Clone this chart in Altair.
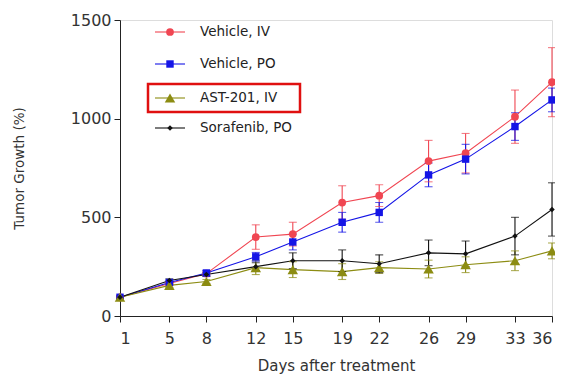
import altair as alt
import pandas as pd

days = [1, 5, 8, 12, 15, 19, 22, 26, 29, 33, 36]

series_names = ["Vehicle, IV", "Vehicle, PO", "AST-201, IV", "Sorafenib, PO"]
series_colors = ["#f04652", "#1414e6", "#8c8c12", "#111111"]
series_shapes = ["circle", "square", "triangle-up", "diamond"]
series_sizes = [60, 55, 110, 30]

veh_iv_mean = [95, 165, 215, 400, 415, 575, 610, 785, 825, 1010, 1185]
veh_iv_err = [5, 10, 12, 62, 60, 85, 55, 105, 100, 135, 175]
veh_po_mean = [95, 170, 218, 300, 375, 475, 525, 715, 795, 960, 1095]
veh_po_err = [5, 10, 12, 22, 40, 50, 50, 60, 75, 70, 60]
ast_mean = [95, 155, 175, 245, 235, 225, 245, 238, 260, 280, 330]
ast_err = [5, 10, 10, 35, 40, 40, 30, 45, 40, 50, 40]
sor_mean = [95, 180, 210, 250, 280, 280, 265, 320, 315, 405, 540]
sor_err = [5, 8, 10, 20, 40, 55, 45, 65, 65, 95, 135]

means = [veh_iv_mean, veh_po_mean, ast_mean, sor_mean]
errs = [veh_iv_err, veh_po_err, ast_err, sor_err]

rows = []
for name, m, e in zip(series_names, means, errs):
    for d, v, s in zip(days, m, e):
        rows.append({"series": name, "day": d, "mean": v, "lo": v - s, "hi": v + s})
df = pd.DataFrame(rows)

W, H = 432, 296
FONT = "DejaVu Sans"

xscale = alt.Scale(domain=[1, 36], nice=False, zero=False)
yscale = alt.Scale(domain=[0, 1500], nice=False)
color = alt.Color("series:N", scale=alt.Scale(domain=series_names, range=series_colors), legend=None)

x_enc = alt.X("day:Q", scale=xscale, axis=alt.Axis(
    values=days, title="Days after treatment", grid=False, labelFontSize=16,
    labelColor="#333", titleFontSize=15, titleFontWeight="normal", titleColor="#333",
    domainColor="#222", tickColor="#222", tickSize=6, labelPadding=8, titlePadding=12,
    labelFont=FONT, titleFont=FONT, format="d"))
y_enc = alt.Y("mean:Q", scale=yscale, axis=alt.Axis(
    values=[0, 500, 1000, 1500], title="Tumor Growth (%)", grid=False, labelFontSize=16,
    labelColor="#333", titleFontSize=13.5, titleFontWeight="normal", titleColor="#333",
    domainColor="#222", tickColor="#222", tickSize=6, labelPadding=3, titlePadding=44,
    labelFont=FONT, titleFont=FONT, format="d"))

base = alt.Chart(df)

lines = base.mark_line(strokeWidth=1.1).encode(x=x_enc, y=y_enc, color=color, detail="series:N")
ebars = base.mark_rule(strokeWidth=1.1).encode(
    x="day:Q", y=alt.Y("lo:Q", scale=yscale), y2="hi:Q", color=color)
cap_hi = base.mark_tick(thickness=1.1, size=8, orient="horizontal").encode(
    x="day:Q", y=alt.Y("hi:Q", scale=yscale), color=color)
cap_lo = base.mark_tick(thickness=1.1, size=8, orient="horizontal").encode(
    x="day:Q", y=alt.Y("lo:Q", scale=yscale), color=color)

layers = [lines, ebars, cap_hi, cap_lo]
for name, col, shp, sz in zip(series_names, series_colors, series_shapes, series_sizes):
    layers.append(
        base.transform_filter(alt.datum.series == name)
        .mark_point(filled=True, opacity=1, shape=shp, size=sz, color=col)
        .encode(x="day:Q", y="mean:Q")
    )

# manual legend (pixel layout)
leg_y = [12, 44, 78, 108]
leg = pd.DataFrame({"series": series_names, "ly": leg_y})
leg_enc_y = alt.Y("ly:Q", scale=None)
layers.append(alt.Chart(leg).mark_rule(strokeWidth=1.1).encode(
    x=alt.value(35), x2=alt.value(65), y=leg_enc_y, color=color))
for name, col, shp, sz in zip(series_names, series_colors, series_shapes, series_sizes):
    layers.append(
        alt.Chart(leg).transform_filter(alt.datum.series == name)
        .mark_point(filled=True, opacity=1, shape=shp, size=sz, color=col)
        .encode(x=alt.value(50), y=leg_enc_y)
    )
layers.append(alt.Chart(leg).mark_text(align="left", baseline="middle", fontSize=13.5,
                                       font=FONT, color="#222").encode(
    x=alt.value(80), y=leg_enc_y, text="series:N"))
layers.append(alt.Chart(pd.DataFrame({"k": [0]})).mark_rect(
    fill=None, stroke="#e01010", strokeWidth=2.5).encode(
    x=alt.value(28), x2=alt.value(180), y=alt.value(64), y2=alt.value(92)))

chart = alt.layer(*layers).properties(
    width=W, height=H,
    autosize=alt.AutoSizeParams(type="none"),
    padding={"left": 112, "top": 12, "right": 3, "bottom": 60},
).configure_view(stroke=None).configure(background="white")

chart.save("out.html", embed_options={"renderer": "svg", "actions": False})
